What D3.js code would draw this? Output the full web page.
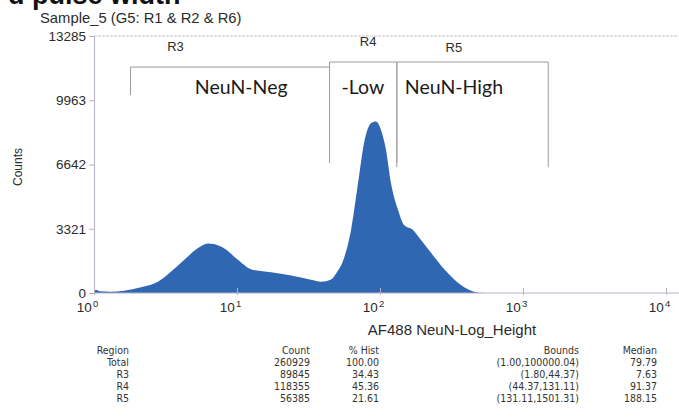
<!DOCTYPE html>
<html>
<head>
<meta charset="utf-8">
<script src="https://cdn.jsdelivr.net/npm/d3@7"></script>
<style>
  body { margin: 0; background: #fff; }
  svg { display: block; font-family: "Liberation Sans", Arial, sans-serif; }
</style>
</head>
<body>
<svg id="chart"></svg>
<script>
// histogram: AF488 value (log axis) and counts
let xValues = [1.00, 1.03, 1.10, 1.31, 1.62, 2.13, 2.80, 3.45, 4.26, 5.34, 6.27, 6.90, 8.11, 10.2, 12.5, 17.3, 23.9, 32.9,
               38.7, 45.4, 49.2, 56.0, 62.7, 70.2, 77.3, 86.5, 93.7, 101.6, 110.2, 119.4, 133.6, 147.2, 170.2, 193.6,
               238.7, 299, 368, 454, 533, 600]
let counts = [0, 170, 90, 70, 120, 295, 585, 1100, 1700, 2320, 2565, 2530, 2310, 1700, 1225, 1070, 900, 685,
              585, 700, 1000, 1800, 3250, 5670, 7740, 8770, 8860, 8425, 7390, 5670, 4300, 3515, 3260, 2740,
              1880, 1020, 415, 70, 0, 0]

let yTicks = [0, 3321, 6642, 9963, 13285]
let xTicks = [1, 10, 100, 1000, 10000]
let xExponents = ['0', '1', '2', '3', '4']

// gates
let gateNames = ['R3', 'R4', 'R5']
let gateLow = [1.80, 44.37, 131.11]
let gateHigh = [44.37, 131.11, 1501.31]
let gateTop = [11680, 11940, 11940]
let gateBottom = [10235, 6720, 6500]

// hand-written notes on the gates
let noteTexts = ['NeuN-Neg', '-Low', 'NeuN-High']
let notePos = [10.7, 76, 329]

// stats table
let tableHead = ['Region', 'Count', '% Hist', 'Bounds', 'Median']
let regions = ['Total', 'R3', 'R4', 'R5']
let regionCounts = ['260929', '89845', '118355', '56385']
let regionPct = ['100.00', '34.43', '45.36', '21.61']
let regionBounds = ['(1.00,100000.04)', '(1.80,44.37)', '(44.37,131.11)', '(131.11,1501.31)']
let regionMedian = ['79.79', '7.63', '91.37', '188.15']

let width = 679
let height = 419

let svg = d3.select('#chart')
    .attr('width', width)
    .attr('height', height)

let xScale = d3.scaleLog()
    .domain([1, 10000])
    .range([94, 666])

let yScale = d3.scaleLinear()
    .domain([0, 13285])
    .range([293, 36])

let axisColor = '#b7b0c6'
let textColor = '#2b2b2b'

// cropped heading from the page above
svg.append('text')
    .attr('x', 8)
    .attr('y', 4)
    .attr('font-size', 27)
    .attr('font-weight', 'bold')
    .attr('fill', '#111')
    .text('d pulse width')

svg.append('text')
    .attr('x', 40)
    .attr('y', 23)
    .attr('font-size', 14.8)
    .attr('fill', textColor)
    .text('Sample_5  (G5: R1 & R2 & R6)')

// histogram
let points = xValues.map((v, i) => [v, counts[i]])
let area = d3.area()
    .x(d => xScale(d[0]))
    .y0(yScale(0))
    .y1(d => yScale(d[1]))
    .curve(d3.curveMonotoneX)

svg.append('path')
    .datum(points)
    .attr('d', area)
    .attr('fill', '#2f67b2')

// frame lines
svg.append('line')
    .attr('x1', 94).attr('x2', width)
    .attr('y1', yScale(13285)).attr('y2', yScale(13285))
    .attr('stroke', '#cbbfcf')
    .attr('stroke-dasharray', '3,1')

svg.append('line')
    .attr('x1', 94).attr('x2', width)
    .attr('y1', yScale(0)).attr('y2', yScale(0))
    .attr('stroke', axisColor)

// y axis
let yAxis = d3.axisLeft(yScale)
    .tickValues(yTicks)
    .tickFormat(d3.format('d'))
    .tickSize(5)
    .tickPadding(3)

let yg = svg.append('g')
    .attr('transform', 'translate(94,0)')
    .call(yAxis)
yg.select('.domain').attr('stroke', axisColor)
yg.selectAll('.tick line').attr('stroke', axisColor)
yg.selectAll('.tick text')
    .attr('font-size', 13.5)
    .attr('font-family', '"Liberation Sans", Arial, sans-serif')
    .attr('fill', textColor)

// x axis, labels as 10 with a raised exponent
let xAxis = d3.axisBottom(xScale)
    .tickValues(xTicks)
    .tickFormat('')
    .tickSizeInner(-5)
    .tickSizeOuter(0)

let xg = svg.append('g')
    .attr('transform', `translate(0,${yScale(0)})`)
    .call(xAxis)
xg.select('.domain').remove()
xg.selectAll('.tick line').attr('stroke', axisColor).attr('y1', 2)

let xLabels = xg.selectAll('.tick')
    .append('text')
    .attr('x', -7)
    .attr('y', 19)
    .attr('font-size', 13.5)
    .attr('font-family', '"Liberation Sans", Arial, sans-serif')
    .attr('fill', textColor)
xLabels.append('tspan').text('10')
xLabels.append('tspan')
    .attr('dx', 1)
    .attr('dy', -5)
    .attr('font-size', 9.5)
    .text((d, i) => xExponents[i])

svg.append('text')
    .attr('x', 452)
    .attr('y', 335)
    .attr('text-anchor', 'middle')
    .attr('font-size', 15)
    .attr('fill', textColor)
    .text('AF488 NeuN-Log_Height')

svg.append('text')
    .attr('transform', 'translate(22,167) rotate(-90)')
    .attr('text-anchor', 'middle')
    .attr('font-size', 12)
    .attr('fill', textColor)
    .text('Counts')

// gates
gateNames.forEach((name, i) => {
    let x1 = xScale(gateLow[i])
    let x2 = xScale(gateHigh[i])
    let yt = yScale(gateTop[i])
    let yb = yScale(gateBottom[i])
    let g = svg.append('g')
        .attr('stroke', '#9c9c9c')
        .attr('fill', 'none')
    g.append('line').attr('x1', x1).attr('x2', x2).attr('y1', yt).attr('y2', yt)
    g.append('line').attr('x1', x1).attr('x2', x1).attr('y1', yt).attr('y2', yb)
    if (i > 0) {
        g.append('line').attr('x1', x2).attr('x2', x2).attr('y1', yt).attr('y2', yb)
    }
    svg.append('text')
        .attr('x', i == 0 ? x1 + 45 : i == 1 ? (x1 + x2) / 2 + 5 : x1 + 57)
        .attr('y', yt - (i == 2 ? 10 : 16))
        .attr('text-anchor', 'middle')
        .attr('font-size', 13)
        .attr('fill', textColor)
        .text(name)
})

noteTexts.forEach((t, i) => {
    svg.append('text')
        .attr('x', xScale(notePos[i]))
        .attr('y', 94)
        .attr('text-anchor', 'middle')
        .attr('font-family', 'Lato, "Open Sans", sans-serif')
        .attr('font-size', 19.5)
        .attr('fill', '#1a1a1a')
        .text(t)
})

// stats table
let colX = [129, 310, 379, 579, 657]
let rowY = [354, 366, 378, 390, 402]
let table = svg.append('g')
    .attr('font-family', '"Liberation Sans Narrow", "DejaVu Sans Condensed", sans-serif')
    .attr('font-size', 10.5)
    .attr('fill', '#333')
    .attr('text-anchor', 'end')

tableHead.forEach((h, j) => {
    table.append('text').attr('x', colX[j]).attr('y', rowY[0]).text(h)
})
let columns = [regions, regionCounts, regionPct, regionBounds, regionMedian]
regions.forEach((r, i) => {
    columns.forEach((col, j) => {
        table.append('text').attr('x', colX[j]).attr('y', rowY[i + 1]).text(col[i])
    })
})
</script>
</body>
</html>
